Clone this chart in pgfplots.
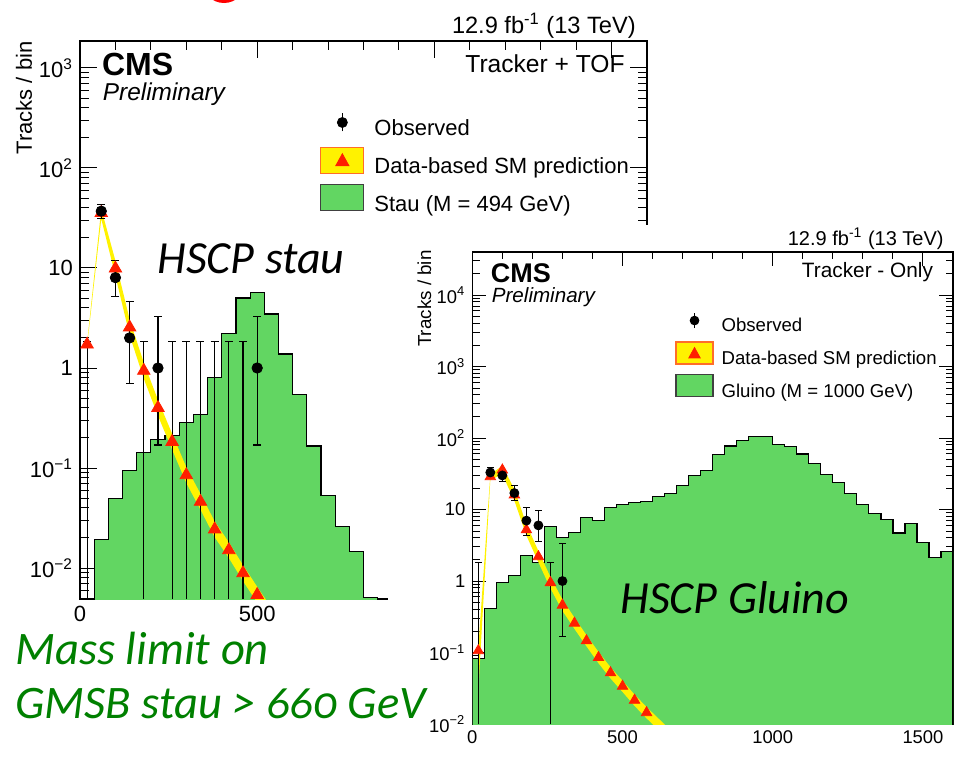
\documentclass[border=0pt]{standalone}
\usepackage{fontspec}
\setmainfont{Liberation Sans}
\newfontfamily\slide{Carlito}[Numbers=OldStyle]
\usepackage{pgfplots}
\pgfplotsset{compat=1.18}
\definecolor{hgreen}{RGB}{98,214,98}
\definecolor{pred}{RGB}{255,30,0}
\definecolor{txtgreen}{RGB}{0,128,0}
\definecolor{bandorange}{RGB}{255,110,40}
\newcommand{\fs}[1]{\fontsize{#1pt}{#1pt}\selectfont}
\begin{document}
\begin{tikzpicture}
\useasboundingbox (0,0) rectangle (480.5pt,-385.5pt);
\fill[red] (112pt,9.35pt) circle (10.85pt);
% ---------------- left plot ----------------
\begin{axis}[
 at={(40pt,-299.5pt)}, anchor=south west, scale only axis,
 width=283.5pt, height=279pt,
 xmin=0, xmax=1600, ymode=log, ymin=0.0049, ymax=1860,
 xtick={0,500,1000,1500}, xticklabels={0,500,{},{}},
 minor x tick num=4,
 ytick={0.01,0.1,1,10,100,1000},
 yticklabels={10\textsuperscript{\textminus2},10\textsuperscript{\textminus1},1,10,10\textsuperscript{2},10\textsuperscript{3}},
 minor ytick={0.006,0.007,0.008,0.009,0.02,0.03,0.04,0.05,0.06,0.07,0.08,0.09,0.2,0.3,0.4,0.5,0.6,0.7,0.8,0.9,2,3,4,5,6,7,8,9,20,30,40,50,60,70,80,90,200,300,400,500,600,700,800,900},
 tick label style={font=\fs{11}},
 major tick length=8.5pt, minor tick length=4.5pt,
 tick style={black, line width=0.5pt},
 axis line style={line width=0.7pt},
 legend style={at={(0.423,0.878)}, anchor=north west, draw=none, fill=none, inner sep=0pt, row sep=3pt, font=\fs{11}, nodes={inner sep=0pt, text height=8pt, text depth=2.3pt}, /tikz/every odd column/.append style={column sep=5pt}},
 legend cell align=left,
]
\addplot[forget plot, const plot, fill=hgreen, draw=black, line width=0.6pt] coordinates {
(40,1e-4) (40,0.0194) (80,0.05) (120,0.095) (160,0.143) (200,0.194) (240,0.21) (280,0.284) (320,0.344) (360,0.80) (400,2.2) (440,5.0) (480,5.7) (520,3.47) (560,1.38) (600,0.54) (640,0.166) (680,0.053) (720,0.026) (760,0.0147) (800,0.0051) (840,1e-4)} -- cycle;
\addplot[forget plot, fill=yellow, draw=none] coordinates {
(20,1.78) (60,39) (100,11.8) (140,3.06) (180,1.13) (220,0.48) (260,0.22) (300,0.102) (340,0.0552) (380,0.0293) (420,0.0181) (460,0.0107) (500,0.0065) (540,0.0040) (580,0.0025)
(580,0.00175) (540,0.00275) (500,0.0045) (460,0.0074) (420,0.0126) (380,0.0203) (340,0.0383) (300,0.0708) (260,0.1525) (220,0.333) (180,0.78) (140,2.13) (100,8.3) (60,31) (20,1.66)} -- cycle;
\addplot[forget plot, only marks, mark=triangle*, mark size=3.6pt, color=pred] coordinates {
(20,1.72) (60,35.5) (100,9.9) (140,2.55) (180,0.94) (220,0.40) (260,0.183) (300,0.085) (340,0.046) (380,0.0244) (420,0.0151) (460,0.0089) (500,0.0054)};
\addplot[forget plot, only marks, mark=*, mark size=2.6pt, black,
 error bars/.cd, y dir=both, y explicit, error bar style={draw=black, line width=0.55pt}, error mark options={rotate=90, draw=black, mark size=2pt, line width=0.55pt}] coordinates {
(60,37) += (0,6.1) -= (0,6)
(100,8) += (0,3.8) -= (0,2.8)
(140,2) += (0,2.6) -= (0,1.3)
(220,1) += (0,2.3) -= (0,0.83)
(500,1) += (0,2.3) -= (0,0.83)};
\addplot[forget plot, draw=none, mark=none,
 error bars/.cd, y dir=plus, y explicit, error bar style={draw=black, line width=0.55pt}, error mark options={rotate=90, draw=black, mark size=2pt, line width=0.55pt}] coordinates {
(20,0.0049) += (0,1.835) (180,0.0049) += (0,1.835) (260,0.0049) += (0,1.835) (300,0.0049) += (0,1.835) (340,0.0049) += (0,1.835) (380,0.0049) += (0,1.835) (420,0.0049) += (0,1.835) (460,0.0049) += (0,1.835)};
\addlegendimage{legend image code/.code={
 \path[draw=none, fill=none] (0pt,-2.6pt) rectangle (21.5pt,10.4pt);
 \draw[black, line width=0.55pt] (10.75pt,-0.6pt) -- (10.75pt,8.4pt);
 \fill[black] (10.75pt,3.9pt) circle (2.5pt);}}
\addlegendentry{Observed}
\addlegendimage{legend image code/.code={
 \draw[fill=yellow, draw=bandorange, line width=0.6pt] (0pt,-2.6pt) rectangle (21.5pt,10.4pt);
 \fill[pred] (10.75pt,7.1pt) -- (7.45pt,1.1pt) -- (14.05pt,1.1pt) -- cycle;}}
\addlegendentry{Data-based SM prediction}
\addlegendimage{legend image code/.code={
 \draw[fill=hgreen, draw=black!75, line width=0.6pt] (0pt,-2.6pt) rectangle (21.5pt,10.4pt);}}
\addlegendentry{Stau (M = 494 GeV)}
\node[anchor=base west, font=\bfseries\fs{16}] at (rel axis cs:0.0265,0.939) {CMS};
\node[anchor=base west, font=\itshape\fs{12.2}] at (rel axis cs:0.028,0.894) {Preliminary};
\node[anchor=base east, font=\fs{12.3}] at (rel axis cs:0.973,0.944) {Tracker + TOF};
\end{axis}
\node[anchor=base east, font=\fs{11.8}, inner sep=0pt] at (318pt,-16.5pt) {12.9 fb\textsuperscript{-1} (13 TeV)};
\node[anchor=base east, rotate=90, font=\fs{11}, inner sep=0pt] at (16pt,-20.5pt) {Tracks / bin};
% cover
\fill[white] (194pt,-112.5pt) rectangle (480.5pt,-385.5pt);
% ---------------- right plot ----------------
\begin{axis}[
 at={(236.15pt,-362pt)}, anchor=south west, scale only axis,
 width=240.35pt, height=236pt,
 xmin=0, xmax=1600, ymode=log, ymin=0.01, ymax=40000,
 xtick={0,500,1000,1500}, xticklabels={0,500,1000,1500},
 minor x tick num=4,
 ytick={0.01,0.1,1,10,100,1000,10000},
 yticklabels={10\textsuperscript{\textminus2},10\textsuperscript{\textminus1},1,10,10\textsuperscript{2},10\textsuperscript{3},10\textsuperscript{4}},
 minor ytick={0.02,0.03,0.04,0.05,0.06,0.07,0.08,0.09,0.2,0.3,0.4,0.5,0.6,0.7,0.8,0.9,2,3,4,5,6,7,8,9,20,30,40,50,60,70,80,90,200,300,400,500,600,700,800,900,2000,3000,4000,5000,6000,7000,8000,9000,20000,30000},
 tick label style={font=\fs{9.2}},
 major tick length=7pt, minor tick length=3.6pt,
 tick style={black, line width=0.5pt},
 axis line style={line width=0.7pt},
 legend style={at={(0.4217,0.879)}, anchor=north west, draw=none, fill=none, inner sep=0pt, row sep=2.75pt, font=\fs{9.3}, nodes={inner sep=0pt, text height=6.8pt, text depth=2pt}, /tikz/every odd column/.append style={column sep=4pt}},
 legend cell align=left,
]
\addplot[forget plot, const plot, fill=hgreen, draw=black, line width=0.6pt] coordinates {
(0,1e-4) (0,0.083) (40,0.41) (80,0.96) (120,1.2) (160,2.29) (200,1.8) (240,5.75) (280,4.04) (320,4.8) (360,7.7) (400,7.0) (440,10.8) (480,11.7) (520,12.5) (560,12.9) (600,15.3) (640,16.8) (680,21.5) (720,30.2) (760,35.5) (800,59.6) (840,77.3) (880,91.8) (920,105) (960,105) (1000,82) (1040,77) (1080,60) (1120,43.8) (1160,31) (1200,23.7) (1240,16.7) (1280,11.7) (1320,8.7) (1360,7.3) (1400,4.7) (1440,6.3) (1480,3.45) (1520,2.16) (1560,2.6) (1600,1e-4)} -- cycle;
\addplot[forget plot, fill=yellow, draw=none] coordinates {
(20,0.115) (60,31) (100,41) (140,19.2) (180,6.24) (220,2.63) (260,1.14) (300,0.552) (340,0.308) (380,0.175) (420,0.102) (460,0.0624) (500,0.0404) (540,0.0258) (580,0.0173) (620,0.0119) (660,0.0082) (700,0.0056)
(700,0.0039) (660,0.0057) (620,0.00825) (580,0.012) (540,0.0179) (500,0.0281) (460,0.0433) (420,0.0708) (380,0.122) (340,0.214) (300,0.383) (260,0.79) (220,1.83) (180,4.33) (140,13.3) (100,31) (60,26) (20,0.03)} -- cycle;
\addplot[forget plot, only marks, mark=triangle*, mark size=3pt, color=pred] coordinates {
(20,0.106) (60,28.8) (100,35.7) (140,16) (180,5.2) (220,2.19) (260,0.95) (300,0.46) (340,0.257) (380,0.146) (420,0.085) (460,0.052) (500,0.0337) (540,0.0215) (580,0.0144) (620,0.0099)};
\addplot[forget plot, only marks, mark=*, mark size=2.25pt, black,
 error bars/.cd, y dir=both, y explicit, error bar style={draw=black, line width=0.5pt}, error mark options={rotate=90, draw=black, mark size=1.6pt, line width=0.5pt}] coordinates {
(60,33) += (0,5.7) -= (0,5.7)
(100,30) += (0,5.5) -= (0,5.5)
(140,17) += (0,5) -= (0,3.7)
(180,7) += (0,3.8) -= (0,2.6)
(220,6) += (0,3.6) -= (0,2.4)
(300,1) += (0,2.3) -= (0,0.83)};
\addplot[forget plot, draw=none, mark=none,
 error bars/.cd, y dir=plus, y explicit, error bar style={draw=black, line width=0.5pt}, error mark options={rotate=90, draw=black, mark size=1.6pt, line width=0.5pt}] coordinates {
(20,0.01) += (0,1.83) (260,0.01) += (0,1.83)};
\addlegendimage{legend image code/.code={
 \path[draw=none, fill=none] (0pt,-2.17pt) rectangle (18.5pt,8.83pt);
 \draw[black, line width=0.5pt] (9.25pt,-0.5pt) -- (9.25pt,7.2pt);
 \fill[black] (9.25pt,3.33pt) circle (2.2pt);}}
\addlegendentry{Observed}
\addlegendimage{legend image code/.code={
 \draw[fill=yellow, draw=bandorange, line width=0.6pt] (0pt,-2.17pt) rectangle (18.5pt,8.83pt);
 \fill[pred] (9.25pt,6.1pt) -- (6.4pt,0.9pt) -- (12.1pt,0.9pt) -- cycle;}}
\addlegendentry{Data-based SM prediction}
\addlegendimage{legend image code/.code={
 \draw[fill=hgreen, draw=black!75, line width=0.6pt] (0pt,-2.17pt) rectangle (18.5pt,8.83pt);}}
\addlegendentry{Gluino (M = 1000 GeV)}
\node[anchor=base west, font=\bfseries\fs{13.5}] at (rel axis cs:0.024,0.936) {CMS};
\node[anchor=base west, font=\itshape\fs{10.3}] at (rel axis cs:0.026,0.894) {Preliminary};
\node[anchor=base east, font=\fs{10.4}] at (rel axis cs:0.973,0.945) {Tracker - Only};
\node[anchor=base east, font=\fs{9.2}, inner sep=0pt] at (rel axis cs:1,0) [yshift=-20.5pt] {Mass (GeV)};
\end{axis}
\node[anchor=base east, font=\fs{10}, inner sep=0pt] at (472pt,-122.5pt) {12.9 fb\textsuperscript{-1} (13 TeV)};
\node[anchor=base east, rotate=90, font=\fs{9.4}, inner sep=0pt] at (215.5pt,-125pt) {Tracks / bin};
% ---------------- slide annotations ----------------
\node[anchor=base west, inner sep=0pt, font=\slide\itshape\fs{23}] at (78.5pt,-136.5pt) {HSCP stau};
\node[anchor=base west, inner sep=0pt, font=\slide\itshape\fs{23}] at (310pt,-306.5pt) {HSCP Gluino};
\node[anchor=base west, inner sep=0pt, font=\slide\itshape\fs{23.3}, text=txtgreen] at (7.5pt,-332pt) {Mass limit on};
\node[anchor=base west, inner sep=0pt, font=\slide\itshape\fs{23.3}, text=txtgreen] at (7.5pt,-359pt) {GMSB stau > 660 GeV};
\end{tikzpicture}
\end{document}
